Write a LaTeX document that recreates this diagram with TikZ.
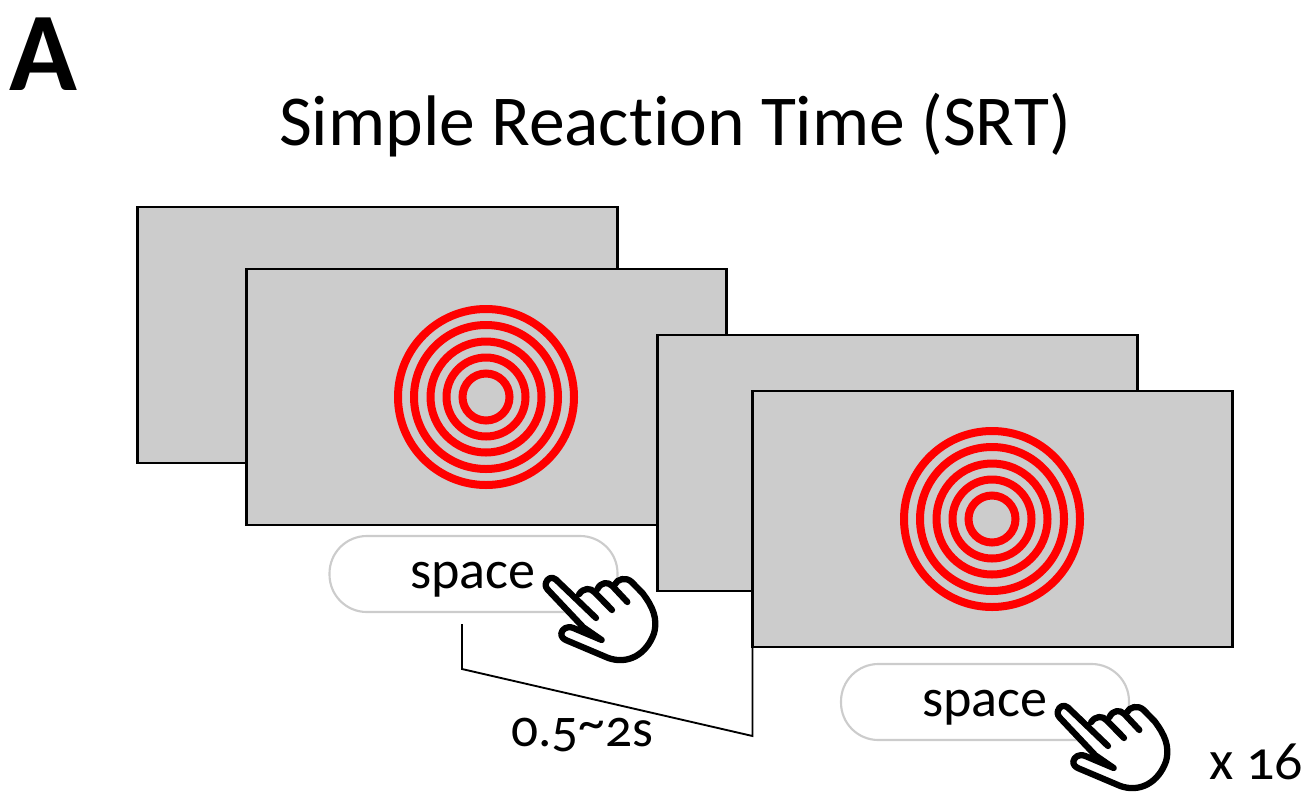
\documentclass[tikz,border=0pt]{standalone}
\usepackage{fontspec}
\setmainfont[Numbers=OldStyle,Ligatures=NoCommon]{Carlito}
\definecolor{scr}{HTML}{CCCCCC}
\definecolor{pill}{HTML}{CCCCCC}
\tikzset{
  x=0.75pt,y=-0.75pt,
  screen/.style={draw=black,fill=scr,line width=1.6pt,outer sep=0pt,rectangle,minimum width=360pt,minimum height=191.8pt,inner sep=0pt,anchor=north west},
  pillbox/.style={draw=pill,fill=white,line width=1.6pt,outer sep=0pt,rectangle,rounded corners=28pt,minimum width=216pt,minimum height=57pt,inner sep=0pt,anchor=north west},
  lbl/.style={inner sep=0pt,text=black},
  ring/.style={draw=red,line width=6pt},
  conn/.style={draw=black,line width=1.4pt},
  pics/rings/.style={code={
    \foreach \r in {23.5,39.5,55.5,72,88}{\draw[ring] (0,0) circle[radius=\r];}
  }},
  pics/hand/.style={code={
    \begin{scope}[x=0.25pt,y=-0.25pt,line width=4.7pt,line cap=round,line join=round]
    \fill[white] (88,100) -- (180,135) -- (215,110) -- (250,85) -- (310,90) -- (390,170) -- (405,240) -- (340,320) -- (270,325) -- (135,270) -- (125,245) -- (150,232) -- (170,220) -- cycle;
    \draw[black] (228,204) -- (107,88) .. controls (94,78) and (82,86) .. (78,98) .. controls (74,108) and (80,116) .. (88,124) -- (190,232) -- (245,270) -- (160,234) .. controls (140,226) and (126,238) .. (124,250) .. controls (123,260) and (130,268) .. (142,272) -- (265,324) .. controls (325,345) and (380,312) .. (402,250) .. controls (414,205) and (398,170) .. (368,130) -- (335,96) .. controls (318,80) and (292,86) .. (284,104);
    \draw[black] (177,133) .. controls (190,113) and (212,112) .. (225,128) -- (276,180);
    \draw[black] (232,118) .. controls (242,96) and (264,94) .. (277,108) -- (322,156);
    \end{scope}
  }},
}
\begin{document}
\begin{tikzpicture}
\useasboundingbox (0,0) rectangle (1308,796);
\node[lbl,anchor=center] (panel) at (43,54) {\fontsize{84}{84}\selectfont\bfseries A};
\node[lbl,anchor=center] (title) at (675,125) {\fontsize{53.7}{54}\selectfont Simple Reaction Time (SRT)};
\node[screen] (s1) at (137.5,207) {};
\node[screen] (s2) at (246.5,269) {};
\pic at (486,397) {rings};
\node[screen] (s3) at (657.5,335) {};
\node[screen] (s4) at (752.5,391) {};
\pic at (992,519) {rings};
\node[pillbox] (p1) at (329.5,536) {};
\node[lbl] (t1) at (473,580) {\fontsize{40.6}{41}\selectfont space};
\pic at (520,550) {hand};
\node[pillbox] (p2) at (841,664) {};
\node[lbl] (t2) at (985,708) {\fontsize{40.6}{41}\selectfont space};
\pic at (1032,678) {hand};
\coordinate (c0) at (462,624);
\draw[conn,line join=miter] (c0) -- (462,669) -- (s4.south west |- 0,736) -- (s4.south west);
\node[lbl] (d) at (582,735) {\fontsize{40}{40}\selectfont 0.5\raisebox{0.25ex}{\textasciitilde}2s};
\node[lbl] (x) at (1256,762) {\fontsize{42}{42}\selectfont x 16};
\end{tikzpicture}
\end{document}
